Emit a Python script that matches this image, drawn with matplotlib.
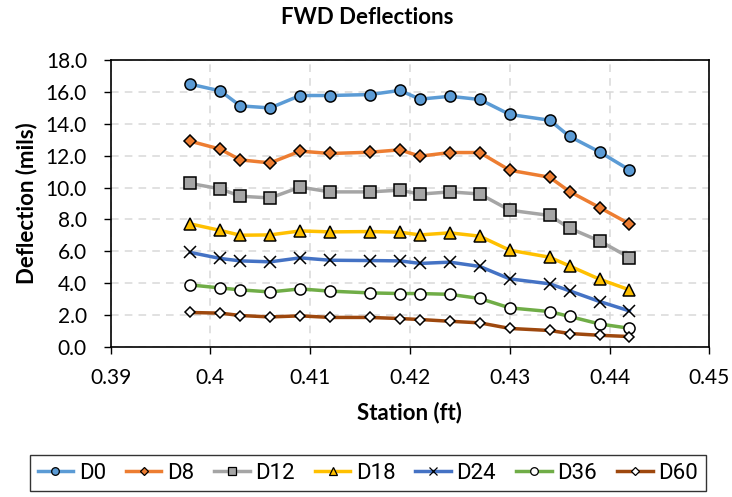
import numpy as np
import matplotlib.pyplot as plt

# FWD sensor deflections along the station line
station = [0.398, 0.401, 0.403, 0.406, 0.409, 0.412, 0.416, 0.419,
           0.421, 0.424, 0.427, 0.430, 0.434, 0.436, 0.439, 0.442]

d0 = [16.49, 16.07, 15.13, 15.00, 15.78, 15.78, 15.84, 16.10,
      15.55, 15.73, 15.53, 14.59, 14.23, 13.21, 12.24, 11.11]
d8 = [12.91, 12.41, 11.74, 11.55, 12.29, 12.14, 12.22, 12.37,
      11.97, 12.20, 12.20, 11.09, 10.65, 9.75, 8.75, 7.72]
d12 = [10.26, 9.92, 9.46, 9.35, 10.03, 9.73, 9.73, 9.84,
       9.59, 9.73, 9.60, 8.58, 8.25, 7.45, 6.65, 5.61]
d18 = [7.72, 7.31, 7.01, 7.03, 7.28, 7.22, 7.24, 7.20,
       7.03, 7.16, 6.95, 6.07, 5.63, 5.08, 4.25, 3.58]
d24 = [5.93, 5.55, 5.40, 5.34, 5.59, 5.44, 5.42, 5.40,
       5.24, 5.32, 5.05, 4.27, 3.96, 3.52, 2.85, 2.26]
d36 = [3.89, 3.70, 3.58, 3.45, 3.64, 3.50, 3.39, 3.35,
       3.35, 3.30, 3.04, 2.45, 2.22, 1.91, 1.44, 1.17]
d60 = [2.16, 2.12, 1.97, 1.88, 1.95, 1.85, 1.85, 1.78,
       1.72, 1.61, 1.51, 1.16, 1.03, 0.84, 0.73, 0.65]

series = [
    ("D0", d0, "#5B9BD5", "o", "#5B9BD5"),
    ("D8", d8, "#ED7D31", "D", "#ED7D31"),
    ("D12", d12, "#A5A5A5", "s", "#A5A5A5"),
    ("D18", d18, "#FFC000", "^", "#FFC000"),
    ("D24", d24, "#4472C4", "x", "none"),
    ("D36", d36, "#70AD47", "o", "white"),
    ("D60", d60, "#9E480E", "D", "white"),
]
sizes = {"o": 8, "D": 6.5, "s": 8, "^": 8.5, "x": 8}

plt.rcParams['font.family'] = ['Lato', 'DejaVu Sans']

fig = plt.figure(figsize=(7.32, 4.97), dpi=100)
ax = fig.add_axes([0.151, 0.302, 0.818, 0.577])

for name, vals, col, mk, face in series:
    ms = sizes[mk]
    if name == "D60":
        ms = 5.5
    ax.plot(station, vals, color=col, linewidth=2.5, marker=mk,
            markersize=ms, markerfacecolor=face, markeredgecolor='black',
            markeredgewidth=1.1, label=name, zorder=3)

ax.set_xlim(0.39, 0.45)
ax.set_ylim(0, 18)
ax.set_xticks(np.arange(0.39, 0.4501, 0.01))
ax.set_xticklabels(["0.39", "0.4", "0.41", "0.42", "0.43", "0.44", "0.45"])
ax.set_yticks(np.arange(0, 18.01, 2))
ax.set_yticklabels([f"{v:.1f}" for v in np.arange(0, 18.01, 2)])
ax.tick_params(labelsize=15, length=5, width=1, direction='out', colors='black')
ax.tick_params(axis='x', pad=10)
ax.tick_params(axis='y', pad=12)
ax.grid(True, color='#D9D9D9', linestyle=(0, (5, 4)), linewidth=1.1, zorder=0)
for s in ax.spines.values():
    s.set_color('black')
    s.set_linewidth(1.2)

ax.set_title("FWD Deflections", fontsize=16, fontweight='bold', pad=26, x=0.428)
ax.set_xlabel("Station (ft)", fontsize=16, fontweight='bold', labelpad=10)
ax.set_ylabel("Deflection (mils)", fontsize=16, fontweight='bold', labelpad=6)

leg_handles = []
for name, vals, col, mk, face in series:
    h = plt.Line2D([], [], color=col, linewidth=2.5, marker=mk,
                   markersize=5.5 if mk != "D" else 4.5, markerfacecolor=face,
                   markeredgecolor='black', markeredgewidth=0.9)
    leg_handles.append(h)
leg = fig.legend(leg_handles, [s[0] for s in series], loc='center',
                 bbox_to_anchor=(0.5023, 0.048), ncol=7, frameon=True,
                 fancybox=False, edgecolor='black', handlelength=1.6,
                 handletextpad=0.25, columnspacing=0.9, borderpad=0.35,
                 prop={'family': ['Roboto', 'DejaVu Sans'], 'size': 16})
leg.get_frame().set_linewidth(1.0)

fig.savefig("out.png", dpi=100)
